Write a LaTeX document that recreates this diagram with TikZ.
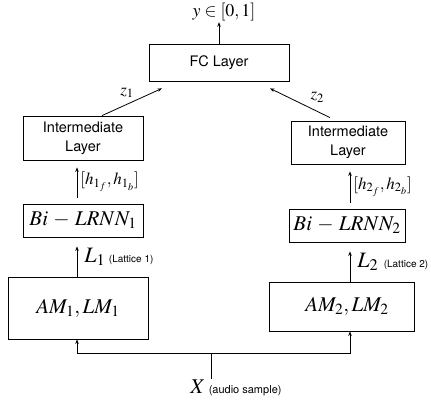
\documentclass[tikz,border=0pt]{standalone}
\usepackage{mathptmx}
\usepackage{fontspec}
\setmainfont{Liberation Serif}
\setsansfont{TeX Gyre Heros}
\usetikzlibrary{arrows.meta}
\newcommand{\fsz}[1]{\fontsize{#1}{#1}\selectfont}

\begin{document}
\begin{tikzpicture}[x=1pt,y=-1pt,
    layer/.style={draw,line width=0.8pt,inner sep=0pt,align=center,
      font=\sffamily\fontsize{14.5}{19}\selectfont},
    mlayer/.style={layer,font=\fsz{21}},
    flow/.style={-{Stealth[length=4.5pt,width=3.5pt]},line width=0.8pt},
    lbl/.style={inner sep=1pt}]
  \useasboundingbox (0,0) rectangle (431,401);
  \node[layer,minimum width=140,minimum height=37] (fc) at (219,62.5) {FC Layer};
  \node[layer,minimum width=120,minimum height=44] (int1) at (83,138) {Intermediate\\Layer};
  \node[layer,minimum width=114,minimum height=43] (int2) at (348,142.5) {Intermediate\\Layer};
  \node[mlayer,minimum width=120,minimum height=33] (bi1) at (83,220.5) {$Bi\,-\,LRNN_1$};
  \node[mlayer,minimum width=116,minimum height=33] (bi2) at (347,225.5) {$Bi\,-\,LRNN_2$};
  \node[mlayer,minimum width=140,minimum height=62] (am1) at (78,308) {$AM_1,LM_1$};
  \node[mlayer,minimum width=145,minimum height=49] (am2) at (342,306.5) {\hspace{10pt}$AM_2,LM_2$};
  \node[lbl,font=\fsz{18}] (y) at (224,12) {$y\in[0,1]$};
  \node[lbl] (x) at (236,388) {\fsz{21}$X$\,{\sffamily\fsz{11}(audio sample)}};
  \coordinate (col1) at (77,0);
  \coordinate (col2) at (350,0);
  \coordinate (split) at (211,353);

  \draw[flow] (fc.north) -- (fc.north |- y.south);
  \draw[flow] ([xshift=19pt]int1.north) -- ([xshift=-57pt,yshift=-7pt]fc.south)
    node[lbl,midway,above=3pt,xshift=-5pt,font=\fsz{17}] {$z_1$};
  \draw[flow] ([xshift=-18pt,yshift=3pt]int2.north) -- ([xshift=51pt,yshift=-7pt]fc.south)
    node[lbl,pos=.28,above=6pt,xshift=4pt,font=\fsz{17}] {$z_2$};

  \draw[flow,shorten <=6pt,shorten >=7pt] (col1 |- bi1.north) -- (col1 |- int1.south)
    node[lbl,midway,right=2pt,font=\fsz{17}] {$[h_{1_f},h_{1_b}]$};
  \draw[flow,shorten <=6pt,shorten >=7pt] (col2 |- bi2.north) -- (col2 |- int2.south)
    node[lbl,midway,right=2pt,font=\fsz{17}] {$[h_{2_f},h_{2_b}]$};
  \draw[flow,shorten >=9pt] (col1 |- am1.north) -- (col1 |- bi1.south)
    node[lbl,midway,right=6pt] {\fsz{22}$L_1$\,{\sffamily\fsz{10}(Lattice 1)}};
  \draw[flow,shorten >=9pt] (col2 |- am2.north) -- (col2 |- bi2.south)
    node[lbl,midway,right=6pt] {\fsz{22}$L_2$\ {\sffamily\fsz{10}(Lattice 2)}};

  \draw[line width=0.8pt] (x.north -| split) -- (split);
  \draw[flow] (split) -| (col1 |- am1.south);
  \draw[flow] (split) -| (col2 |- am2.south);
\end{tikzpicture}
\end{document}
